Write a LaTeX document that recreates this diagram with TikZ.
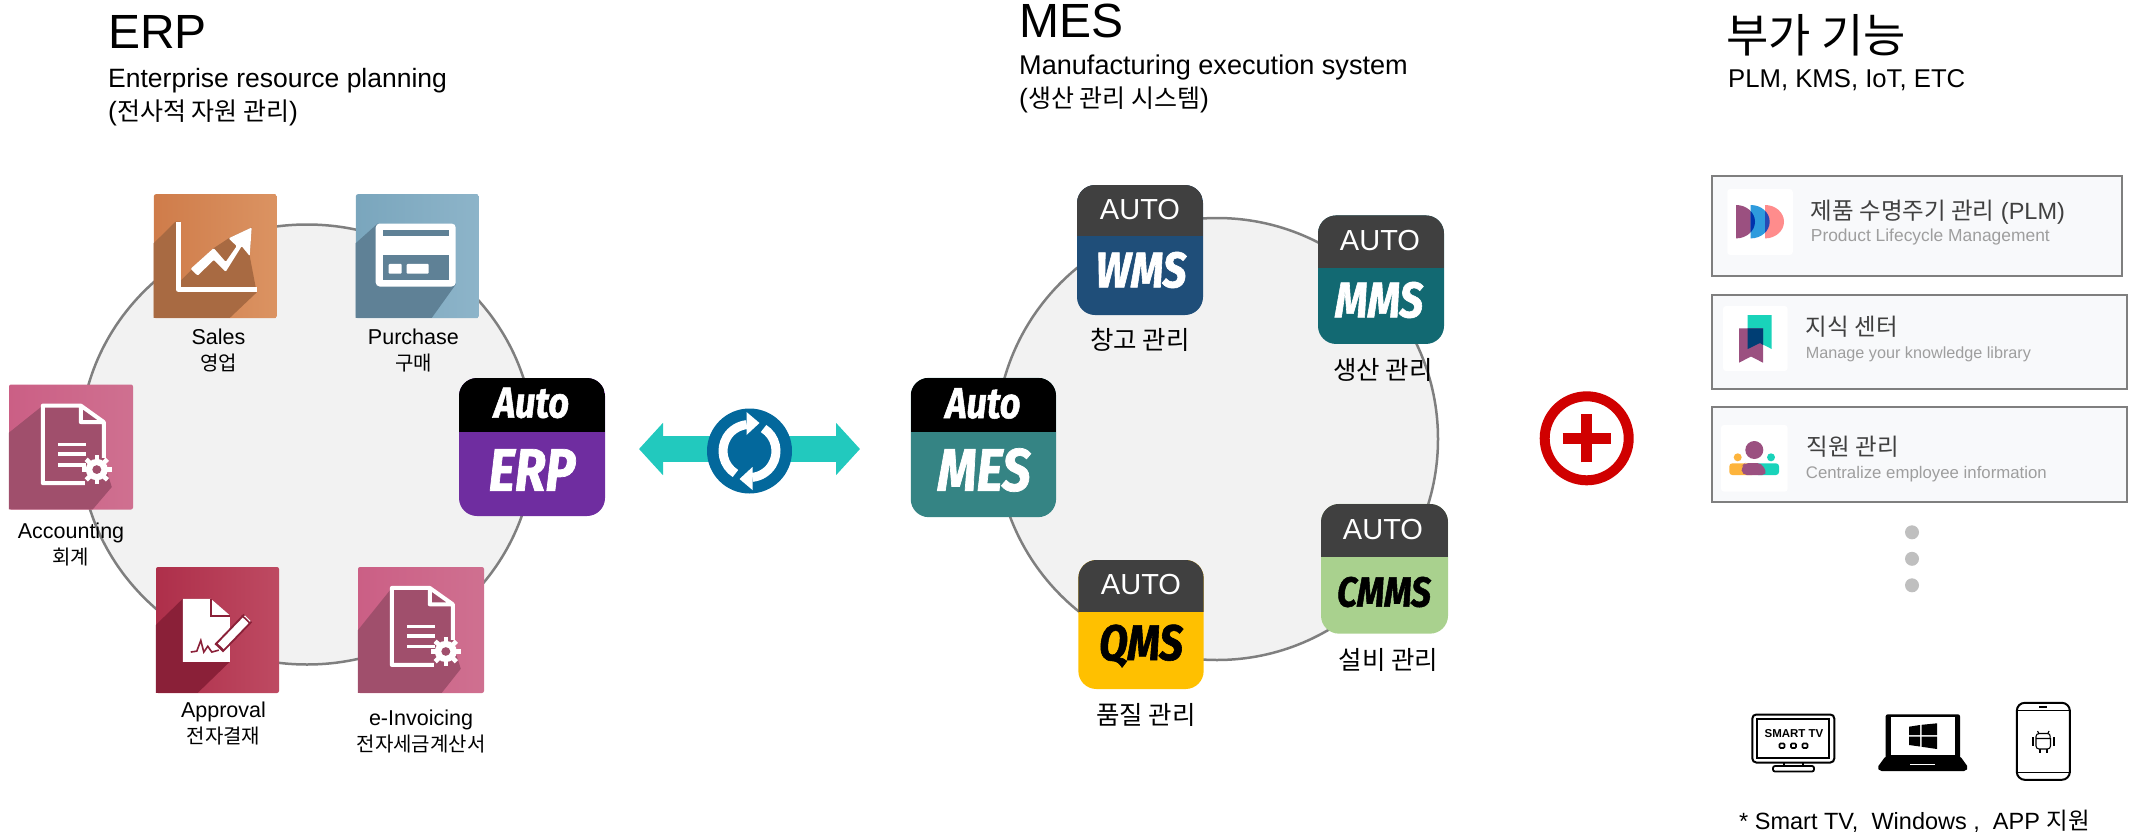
\documentclass[tikz,border=0pt]{standalone}
\usepackage{fontspec}
\setmainfont{Liberation Sans}
\newfontfamily\krfont{Noto Sans CJK KR}
\newfontfamily\tileFont[FakeStretch=0.84,FakeBold=1.2]{Fira Sans}
\newcommand{\kr}[1]{{\krfont #1}}
\newcommand{\krsm}[1]{{\krfont\fontsize{20}{26}\selectfont #1}}
\newcommand{\krsub}[1]{{\krfont\fontsize{25}{31}\selectfont #1}}
\usetikzlibrary{shapes.geometric, arrows.meta}

\definecolor{ringGray}{HTML}{7F7F7F}
\definecolor{ringFill}{HTML}{F2F2F2}
\definecolor{autoDark}{HTML}{404040}
\definecolor{syncTeal}{HTML}{22C9BE}
\definecolor{syncBlue}{HTML}{03689C}
\definecolor{plusRed}{HTML}{D00000}
\definecolor{boxFill}{HTML}{F8F9FB}
\definecolor{featPurple}{HTML}{9B5080}
\definecolor{featTeal}{HTML}{19D3BA}
\definecolor{featOrange}{HTML}{FDB43C}
\definecolor{salesL}{HTML}{DB9362}
\definecolor{salesD}{HTML}{CF7C4A}
\definecolor{salesS}{HTML}{A86A42}
\definecolor{buyL}{HTML}{8DB4C9}
\definecolor{buyD}{HTML}{7AA6BD}
\definecolor{buyS}{HTML}{5F8196}
\definecolor{pinkL}{HTML}{CF7090}
\definecolor{pinkD}{HTML}{CB5F85}
\definecolor{pinkS}{HTML}{A04F6C}
\definecolor{signL}{HTML}{BE4A62}
\definecolor{signD}{HTML}{AE2F4A}
\definecolor{signS}{HTML}{8A2038}
\definecolor{erpBody}{HTML}{6F2DA0}
\definecolor{mesBody}{HTML}{358484}
\definecolor{wmsBody}{HTML}{1F4E79}
\definecolor{mmsBody}{HTML}{126972}
\definecolor{cmmsBody}{HTML}{A9D18E}
\definecolor{qmsBody}{HTML}{FFC000}

\tikzstyle{ringNode} = [ellipse, draw=ringGray, fill=ringFill, line width=2.5pt, inner sep=0pt, minimum width=454pt, minimum height=440pt]
\tikzstyle{appTile} = [rectangle, rounded corners=18pt, inner sep=0pt]
\tikzstyle{flatTile} = [rectangle, rounded corners=2pt, inner sep=0pt, shading angle=45]
\tikzstyle{titleNode} = [anchor=base west, inner sep=0pt, font=\fontsize{48}{56}\selectfont]
\tikzstyle{subNode} = [anchor=base west, inner sep=0pt, font=\fontsize{26.5}{31}\selectfont]
\tikzstyle{iconLbl} = [align=center, inner sep=0pt, font=\fontsize{21.5}{26}\selectfont]
\tikzstyle{tileLbl} = [inner sep=0pt, font=\krfont\fontsize{25.5}{30}\selectfont]
\tikzstyle{autoLbl} = [inner sep=0pt, text=white, font=\fontsize{29}{34}\selectfont]
\tikzstyle{nameLbl} = [inner sep=0pt, font=\tileFont\bfseries\itshape\fontsize{50}{56}\selectfont]
\tikzstyle{logoLbl} = [inner sep=0pt, text=white, font=\tileFont\bfseries\itshape\fontsize{43}{48}\selectfont]
\tikzstyle{featBox} = [rectangle, draw=ringGray, line width=2pt, fill=boxFill]
\tikzstyle{featCard} = [rectangle, rounded corners=3pt, fill=white, inner sep=0pt]
\tikzstyle{featHead} = [anchor=base west, inner sep=0pt, text=black!75, font=\fontsize{23.5}{28}\selectfont]
\tikzstyle{featSub} = [anchor=base west, inner sep=0pt, text=black!38, font=\fontsize{16.8}{20}\selectfont]
\tikzstyle{moreDot} = [circle, fill=black!25, minimum size=14pt, inner sep=0pt]
\tikzstyle{syncArrow} = [syncTeal, line width=26pt, {Triangle[length=24pt,width=51pt]}-{Triangle[length=24pt,width=51pt]}]

% name, x, y, width, height, height of upper part, upper colour, lower colour
\newcommand{\appIcon}[8]{%
  \node (#1) [appTile, fill=#8, minimum width=#4pt, minimum height=#5pt,
    path picture={\fill[#7, sharp corners] (path picture bounding box.north west) rectangle ([yshift=-#6pt]path picture bounding box.north east);}] at (#2,#3) {};}
% paper with gear, drawn in the corner of its tile
\newcommand{\docGlyph}[1]{%
  \draw[white, line width=4pt, line join=round] (76,102) -- (34,102) -- (34,22) -- (72,22) -- (95,39) -- (95,76) (72,22) -- (72,39) -- (95,39);
  \foreach \ly in {62,72,83} \draw[white, line width=3.6pt] (49,\ly) -- (77,\ly);
  \foreach \a in {0,45,...,315} \draw[white, line width=4.6pt] (88,88) ++(\a:9pt) -- ++(\a:6pt);
  \fill[white] (88,88) circle (11);
  \fill[#1] (88,88) circle (4.5);}

\begin{document}
\begin{tikzpicture}[x=1pt, y=-1pt]
    \useasboundingbox (0,0) rectangle (2131,833);

    % headings
    \node (erpTitle) [titleNode] at (108,48) {ERP};
    \node (erpSub) [subNode] at (108,87) {Enterprise resource planning};
    \node (erpKr) [subNode] at (108,120) {(\krsub{전사적 자원 관리})};
    \node (mesTitle) [titleNode] at (1019,37) {MES};
    \node (mesSub) [subNode, font=\fontsize{27.1}{32}\selectfont] at (1019,74) {Manufacturing execution system};
    \node (mesKr) [subNode] at (1019,107) {(\krsub{생산 관리 시스템})};
    \node (addTitle) [titleNode, font=\krfont\fontsize{46}{52}\selectfont] at (1726,52) {부가 기능};
    \node (addSub) [subNode, font=\fontsize{25.7}{31}\selectfont] at (1728,87) {PLM, KMS, IoT, ETC};

    % ERP side
    \node (erpRing) [ringNode] at (307,444.5) {};
    \node (sales) [flatTile, minimum width=123pt, minimum height=124pt, left color=salesD, right color=salesL] at (215.4,256.2) {};
    \node (purchase) [flatTile, minimum width=123pt, minimum height=124pt, left color=buyD, right color=buyL] at (417.4,256.2) {};
    \node (accounting) [flatTile, minimum width=124pt, minimum height=125pt, left color=pinkD, right color=pinkL] at (71,447) {};
    \node (approval) [flatTile, minimum width=123pt, minimum height=126pt, left color=signD, right color=signL] at (217.5,630) {};
    \node (invoicing) [flatTile, minimum width=126pt, minimum height=126pt, left color=pinkD, right color=pinkL] at (421,630) {};

    \begin{scope}[shift={(sales.north west)}, yscale=.984]
        \fill[salesS] (22,28) -- (0,50) -- (0,126) -- (76,126) -- (103,100) -- (96,63) -- (98,34) -- (75,45) -- (60,55) -- (27,88) -- (27,28) -- cycle;
        \draw[white, line width=5pt, line join=round] (24.5,28) -- (24.5,97) -- (103,97);
        \fill[white, rounded corners=1pt] (37,76) -- (60,55) -- (72,69) -- (83,53) -- (75,45) -- (98,34) -- (96,63) -- (88,53) -- (72,79) -- (60,67) -- (44,83) -- cycle;
    \end{scope}
    \begin{scope}[shift={(purchase.north west)}, yscale=.984]
        \fill[buyS] (22,30) -- (0,50) -- (0,126) -- (76,126) -- (100,92) -- cycle;
        \fill[white, rounded corners=4pt] (20,30) rectangle (100,94);
        \fill[buyS] (27,37) rectangle (93,43);
        \fill[buyS] (27,62) rectangle (93,87);
        \fill[white, rounded corners=1pt] (33,71) rectangle (46,81);
        \fill[white, rounded corners=1pt] (51,71) rectangle (73,81);
    \end{scope}
    \begin{scope}[shift={(accounting.north west)}, yscale=.969]
        \fill[pinkS] (34,22) -- (0,50) -- (0,129) -- (84,129) -- (103,106) -- (95,80) -- (95,39) -- (72,22) -- cycle;
        \docGlyph{pinkS}
    \end{scope}
    \begin{scope}[shift={(invoicing.north west)}, yscale=.962]
        \fill[pinkS] (34,22) -- (0,66) -- (0,131) -- (84,131) -- (103,106) -- (95,80) -- (95,39) -- (72,22) -- cycle;
        \docGlyph{pinkS}
    \end{scope}
    \begin{scope}[shift={(approval.north west)}, yscale=.969]
        \fill[signS] (27,33) -- (0,60) -- (0,130) -- (42,130) -- (74,98) -- (74,50) -- (55,33) -- cycle;
        \fill[white] (27,33) -- (55,33) -- (74,50) -- (74,98) -- (27,98) -- cycle;
        \draw[signS, line width=2pt] (55,33) -- (55,51) -- (74,51);
        \draw[signS, line width=1.6pt] (35,88) -- (41,87) -- (45,76) -- (48,88) -- (52,82) -- (56,88) -- (63,86);
        \draw[signS, line width=12pt] (63,84) -- (92,53);
        \draw[white, line width=8pt] (65,82) -- (92,53);
        \draw[signS, line width=1.6pt] (86,50) -- (94,58);
    \end{scope}

    \node (salesLbl) [iconLbl, below of=sales, node distance=94.5pt, xshift=3pt] {Sales\\\krsm{영업}};
    \node (purchaseLbl) [iconLbl, below of=purchase, node distance=94.5pt, xshift=-4pt] {Purchase\\\krsm{구매}};
    \node (accountingLbl) [iconLbl, below of=accounting, node distance=97.5pt] {Accounting\\\krsm{회계}};
    \node (approvalLbl) [iconLbl, below of=approval, node distance=93.5pt, xshift=6pt] {Approval\\\krsm{전자결재}};
    \node (invoicingLbl) [iconLbl, below of=invoicing, node distance=101pt] {e-Invoicing\\\krsm{전자세금계산서}};

    \appIcon{autoErp}{532}{447}{146}{138}{54}{black}{erpBody}
    \node (autoErpTop) [logoLbl] at (531.6,403) {Auto};
    \node (autoErpName) [nameLbl, text=white, font=\tileFont\bfseries\itshape\fontsize{60}{66}\selectfont] at (532,470) {ERP};

    % link between both sides
    \coordinate (arrL) at (639,449);
    \coordinate (arrR) at (860,449);
    \draw [syncArrow] (arrL) -- (arrR);
    \node (sync) [circle, fill=syncBlue, minimum size=85pt, inner sep=0pt] at (749.5,451) {};
    \draw[white, line width=9pt] ([shift=(238:26.5pt)]sync.center) arc[start angle=238, end angle=96, radius=26.5pt];
    \draw[white, line width=9pt] ([shift=(58:26.5pt)]sync.center) arc[start angle=58, end angle=-84, radius=26.5pt];
    \fill[white] ([shift={(-3pt,39pt)}]sync.center) -- ([shift={(10pt,28pt)}]sync.center) -- ([shift={(-3pt,16pt)}]sync.center) -- cycle;
    \fill[white] ([shift={(3pt,-39pt)}]sync.center) -- ([shift={(-10pt,-28pt)}]sync.center) -- ([shift={(3pt,-16pt)}]sync.center) -- cycle;

    % MES side
    \node (mesRing) [ringNode, minimum width=442pt, minimum height=442pt] at (1217,439) {};
    \appIcon{autoMes}{983.4}{447.5}{145.3}{139.3}{54}{black}{mesBody}
    \node (autoMesTop) [logoLbl] at (983,403.5) {Auto};
    \node (autoMesName) [nameLbl, text=white, font=\tileFont\bfseries\itshape\fontsize{60}{66}\selectfont] at (984,470) {MES};
    \appIcon{wms}{1140}{250}{126}{130}{51.4}{autoDark}{wmsBody}
    \node (wmsTop) [autoLbl] at (1140,210) {AUTO};
    \node (wmsName) [nameLbl, text=white] at (1141,270) {WMS};
    \appIcon{mms}{1381}{279.7}{126}{128.5}{52.3}{autoDark}{mmsBody}
    \node (mmsTop) [autoLbl] at (1380,241) {AUTO};
    \node (mmsName) [nameLbl, text=white] at (1379,300) {MMS};
    \appIcon{cmms}{1384.5}{568.8}{127}{129.7}{53}{autoDark}{cmmsBody}
    \node (cmmsTop) [autoLbl] at (1383,530) {AUTO};
    \node (cmmsName) [nameLbl, font=\tileFont\bfseries\itshape\fontsize{42}{48}\selectfont] at (1384,592) {CMMS};
    \appIcon{qms}{1141}{624.5}{125.3}{129}{52.4}{autoDark}{qmsBody}
    \node (qmsTop) [autoLbl] at (1141,585) {AUTO};
    \node (qmsName) [nameLbl] at (1141,646) {QMS};

    \node (wmsLbl) [tileLbl, below of=wms, node distance=90pt] {창고 관리};
    \node (mmsLbl) [tileLbl, below of=mms, node distance=90pt, xshift=2pt] {생산 관리};
    \node (cmmsLbl) [tileLbl, below of=cmms, node distance=91pt, xshift=4pt] {설비 관리};
    \node (qmsLbl) [tileLbl, below of=qms, node distance=90pt, xshift=5pt] {품질 관리};

    % plus sign
    \node (plus) [circle, draw=plusRed, line width=10pt, minimum size=84pt, inner sep=0pt] at (1586.7,438.3) {};
    \draw[plusRed, line width=11pt] ([xshift=-24pt]plus.center) -- ([xshift=24pt]plus.center);
    \draw[plusRed, line width=11pt] ([yshift=-24pt]plus.center) -- ([yshift=24pt]plus.center);

    % added functions
    \node (plmBox) [featBox, minimum width=410pt, minimum height=100pt] at (1917.3,225.7) {};
    \node (kmsBox) [featBox, minimum width=414.7pt, minimum height=94pt] at (1919.6,341.7) {};
    \node (hrBox) [featBox, minimum width=414.7pt, minimum height=94.4pt] at (1919.6,454.5) {};
    \node (plmCard) [featCard, minimum width=65.5pt, minimum height=66pt] at (1760,222) {};
    \node (kmsCard) [featCard, minimum width=64.7pt, minimum height=65pt] at (1755.3,338.5) {};
    \node (hrCard) [featCard, minimum width=66.7pt, minimum height=66.7pt] at (1754.3,458.3) {};
    \node (plmHead) [featHead] at (1810.7,219.3) {\kr{제품 수명주기 관리} (PLM)};
    \node (plmSub) [featSub, font=\fontsize{17.4}{20}\selectfont] at (1810.7,241.7) {Product Lifecycle Management};
    \node (kmsHead) [featHead] at (1805.7,335) {\kr{지식 센터}};
    \node (kmsSub) [featSub, font=\fontsize{16.2}{20}\selectfont] at (1805.7,358.3) {Manage your knowledge library};
    \node (hrHead) [featHead] at (1806.7,455) {\kr{직원 관리}};
    \node (hrSub) [featSub] at (1805.7,478.3) {Centralize employee information};

    % card glyphs
    \fill[featPurple] (1736,205) arc[start angle=90, end angle=-90, x radius=19pt, y radius=16.7pt] -- cycle;
    \fill[cyan!75!blue!85!white] (1750.7,205) arc[start angle=90, end angle=-90, x radius=19pt, y radius=16.7pt] -- cycle;
    \fill[red!45!white] (1765,205) arc[start angle=90, end angle=-90, x radius=19pt, y radius=16.7pt] -- cycle;
    \begin{scope}
        \clip (1736,205) arc[start angle=90, end angle=-90, x radius=19pt, y radius=16.7pt] -- cycle;
        \fill[blue!60!black!80!cyan] (1750.7,205) arc[start angle=90, end angle=-90, x radius=19pt, y radius=16.7pt] -- cycle;
    \end{scope}
    \begin{scope}
        \clip (1750.7,205) arc[start angle=90, end angle=-90, x radius=19pt, y radius=16.7pt] -- cycle;
        \fill[teal!40!blue!70!gray] (1765,205) arc[start angle=90, end angle=-90, x radius=19pt, y radius=16.7pt] -- cycle;
    \end{scope}
    \fill[featTeal] (1747.7,315) -- (1771.7,315) -- (1771.7,349) -- (1760,343) -- (1747.7,349) -- cycle;
    \fill[featPurple] (1739,328.3) -- (1763,328.3) -- (1763,362.7) -- (1751,356.5) -- (1739,362.7) -- cycle;
    \fill[teal!70!blue!70!black] (1747.7,328.3) -- (1763,328.3) -- (1763,345) -- (1760,343) -- (1747.7,349) -- cycle;
    \fill[featOrange, rounded corners=3pt] (1729.3,463.3) rectangle (1755,475);
    \fill[featTeal, rounded corners=3pt] (1755,463.3) rectangle (1779,475);
    \fill[featPurple, rounded corners=5pt] (1741.7,475) -- (1741.7,466) -- (1745,463) -- (1762,463) -- (1767.3,475) -- cycle;
    \fill[featPurple] (1754.3,450) circle (9);
    \fill[featOrange] (1737.7,457.3) circle (4);
    \fill[featTeal] (1771,457.3) circle (4);

    \node (dotA) [moreDot] at (1912,532.3) {};
    \node (dotB) [moreDot, below of=dotA, node distance=26.5pt] {};
    \node (dotC) [moreDot, below of=dotB, node distance=26.5pt] {};

    % devices
    \node (tv) [rectangle, draw=black, line width=2pt, rounded corners=4pt, minimum width=82pt, minimum height=48pt, inner sep=0pt] at (1793.3,738.5) {};
    \node (tvIn) [rectangle, draw=black, line width=2pt, minimum width=72pt, minimum height=39pt, inner sep=0pt] at (tv.center) {};
    \node (tvTxt) [inner sep=0pt, font=\bfseries\fontsize{11.5}{13}\selectfont] at (1794,734) {SMART TV};
    \foreach \tx in {1782,1793.5,1805} \draw[black, line width=1.6pt, rounded corners=1pt] (\tx-2.5,743.5) rectangle (\tx+2.5,748);
    \draw[black, line width=1.6pt] (1784,763) -- (1784,766) (1803,763) -- (1803,766);
    \draw[black, line width=1.8pt, rounded corners=2pt] (1773,766) rectangle (1814,771.5);

    \fill[black, rounded corners=2pt] (1885.7,714.3) rectangle (1960,760);
    \fill[white] (1890.7,717.3) rectangle (1955,755);
    \fill[black, rounded corners=2pt] (1885.7,756) -- (1960,756) -- (1968.3,767.5) -- (1966,771) -- (1879.5,771) -- (1877.3,767.5) -- cycle;
    \draw[white, line width=1.5pt] (1910,764.5) -- (1935,764.5);
    \fill[black] (1909,726.7) -- (1920,725) -- (1920,735) -- (1909,735) -- cycle;
    \fill[black] (1921.7,724.8) -- (1937,723.3) -- (1937,735) -- (1921.7,735) -- cycle;
    \fill[black] (1909,736.7) -- (1920,736.7) -- (1920,746.5) -- (1909,745) -- cycle;
    \fill[black] (1921.7,736.7) -- (1937,736.7) -- (1937,749) -- (1921.7,746.8) -- cycle;

    \node (phone) [rectangle, draw=black, line width=2pt, rounded corners=8pt, minimum width=53pt, minimum height=77pt, inner sep=0pt] at (2043.3,741.3) {};
    \draw[black, line width=.8pt] ([yshift=-8.5pt]phone.north west) -- ([yshift=-8.5pt]phone.north east);
    \draw[black, line width=.8pt] ([yshift=8.5pt]phone.south west) -- ([yshift=8.5pt]phone.south east);
    \draw[black, line width=1.2pt] (2039,707) -- (2047,707);
    \draw[black, line width=1.1pt, rounded corners=3pt] (2036,738) -- (2036,733.5) -- (2050.5,733.5) -- (2050,738) (2036,738) -- (2036,749) -- (2050.5,749) -- (2050.5,738);
    \draw[black, line width=1.1pt] (2036,738.5) -- (2050.5,738.5) (2037.5,731) -- (2039,734) (2049,731) -- (2047.5,734);
    \draw[black, line width=2pt] (2032.5,737) -- (2032.5,746) (2054,737) -- (2054,746) (2040,749) -- (2040,753) (2046.5,749) -- (2046.5,753);

    \node (deviceTxt) [anchor=base west, inner sep=0pt, font=\fontsize{23.5}{29}\selectfont] at (1739,829) {* Smart TV,\ \ Windows ,\ \ APP \kr{지원}};
\end{tikzpicture}
\end{document}
